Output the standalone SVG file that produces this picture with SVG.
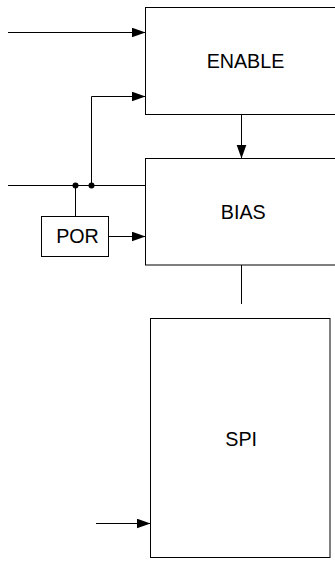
<svg xmlns="http://www.w3.org/2000/svg" width="335" height="561" viewBox="0 0 335 561">
<style>
.box{fill:#fff;stroke:#000;stroke-width:1}
.lbl{font-family:"Liberation Sans",Arial,sans-serif;font-size:19.7px;fill:#000;text-anchor:middle}
.wire{fill:none;stroke:#000;stroke-width:1}
</style>
<defs>
<marker id="arr" markerUnits="userSpaceOnUse" markerWidth="15" markerHeight="11" refX="14" refY="5" orient="auto">
<path d="M0,0 L14,5 L0,10 z" fill="#000"/>
</marker>
</defs>
<rect width="335" height="561" fill="#fff"/>
<g id="enable"><rect class="box" x="145.5" y="7.5" width="200" height="107"/><text class="lbl" x="245.5" y="68.3">ENABLE</text></g>
<g id="bias"><rect class="box" x="145.5" y="158.5" width="200" height="106.5"/><text class="lbl" x="243.3" y="219">BIAS</text></g>
<g id="por"><rect class="box" x="41.5" y="216.5" width="67" height="40"/><text class="lbl" x="77.5" y="243.3">POR</text></g>
<g id="spi"><rect class="box" x="150.5" y="318.5" width="179.5" height="239"/><text class="lbl" x="241.2" y="445.7">SPI</text></g>
<g id="connectors">
<path class="wire" d="M8,32.5 H145.5" marker-end="url(#arr)"/>
<path class="wire" d="M91.5,185.5 V96.5 H145.5" marker-end="url(#arr)"/>
<path class="wire" d="M8,185.5 H145.5"/>
<path class="wire" d="M75.5,185.5 V216.5"/>
<path class="wire" d="M108.5,236.5 H145.5" marker-end="url(#arr)"/>
<path class="wire" d="M241.5,114.5 V158.5" marker-end="url(#arr)"/>
<path class="wire" d="M241.5,265 V304"/>
<path class="wire" d="M96,523.5 H150.5" marker-end="url(#arr)"/>
<circle cx="75.5" cy="185.5" r="3" fill="#000"/>
<circle cx="91.5" cy="185.5" r="3" fill="#000"/>
</g>
</svg>
